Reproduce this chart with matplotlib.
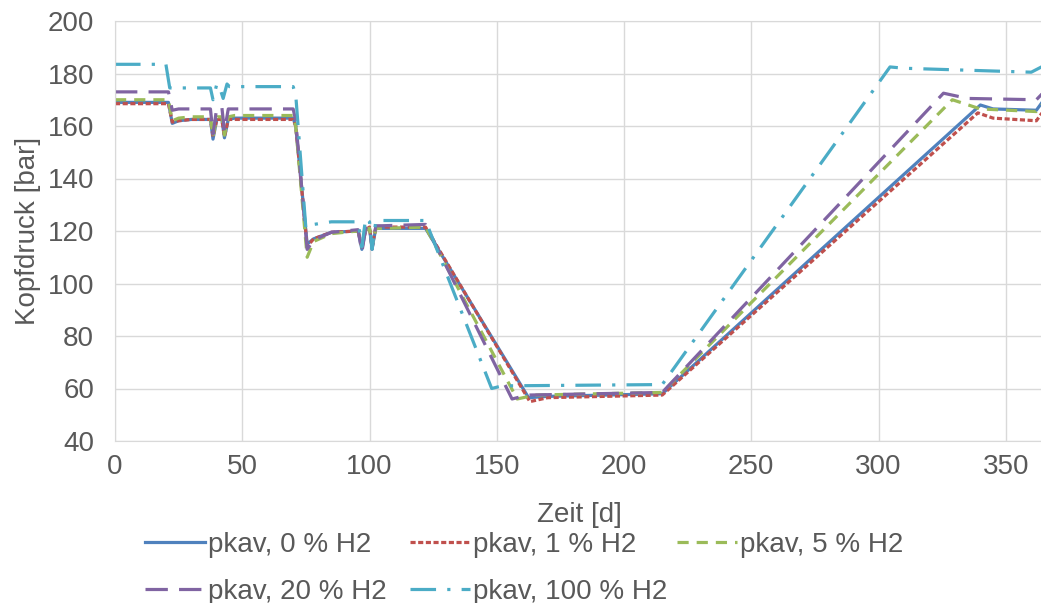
import numpy as np
import matplotlib
matplotlib.use("Agg")
import matplotlib.pyplot as plt

plt.rcParams["font.family"] = ["Liberation Sans", "DejaVu Sans"]

# day / pressure points
x_0 = [0, 21, 22.5, 25, 30, 37.5, 38.5, 40, 42, 43, 44.5, 47, 70, 71, 75.5, 78, 85, 95.5, 97, 98.5, 100, 101, 102.5, 105, 122, 162.5, 170, 215, 340, 345, 362, 365]
y_0 = [169, 169, 161, 162, 162.5, 162.5, 155, 162.5, 162.5, 155.5, 162.5, 163, 163, 160, 115, 117, 119.5, 120, 113, 120.5, 121, 113.5, 121, 121, 121, 56.5, 57, 58, 168, 166.5, 166, 170]

x_1 = [0, 21, 22.5, 25, 30, 37.5, 38.5, 40, 42, 43, 44.5, 47, 70, 71, 75.5, 78, 85, 95.5, 97, 98.5, 100, 101, 102.5, 105, 122, 163, 170, 215, 339, 345, 362, 365]
y_1 = [168.5, 168.5, 161.5, 162, 162.5, 162.5, 156, 162.5, 162.5, 156, 162.5, 162.5, 162.5, 160, 114, 117, 119.5, 120, 114, 120.5, 121.5, 114, 121.5, 121.5, 121.5, 55, 56.5, 57.5, 165, 163, 162, 166]

x_5 = [0, 21, 22.5, 25, 30, 37.5, 38.5, 40, 42, 43, 44.5, 47, 70, 71, 75.5, 78, 85, 95.5, 97, 98.5, 100, 101, 102.5, 105, 122, 158, 165, 215, 329, 340, 362, 365]
y_5 = [170, 170, 162, 163, 163.5, 163.5, 156, 163.5, 163.5, 156.5, 163.5, 164, 164, 160, 110, 116, 119, 120, 114, 120.5, 121, 114, 121, 121, 121.5, 56, 57.5, 58.5, 170, 166.5, 165.5, 169]

x_20 = [0, 21, 22.5, 25, 30, 37.5, 38.5, 40, 42, 43, 44.5, 47, 70, 71, 75.5, 78, 85, 95.5, 97, 98.5, 100, 101, 102.5, 105, 122, 156, 162, 215, 325.5, 335, 362, 365]
y_20 = [173, 173, 166, 166.5, 166.5, 166.5, 157, 167, 167, 158, 166.5, 166.5, 166.5, 162, 113, 116.5, 119.5, 120.5, 112, 121, 122, 113, 122, 122, 122.5, 56, 57.5, 58.5, 172.5, 170.5, 170, 173]

x_100 = [0, 20, 21.5, 30, 37.5, 38.5, 40, 41, 42.5, 44, 45, 47, 70, 71, 75, 78, 85, 95.5, 97, 98.5, 100, 101, 102.5, 105, 122, 148, 152, 215, 304.5, 310, 360, 365]
y_100 = [183.5, 183.5, 174.5, 174.5, 174.5, 170, 176, 175, 170.5, 176, 175, 175, 175, 172, 121, 122.5, 123.5, 123.5, 114, 125, 123.5, 113, 124, 124, 124, 60, 61, 61.5, 182.5, 182, 180.5, 183]

series = [
    (x_0, y_0, "pkav, 0 % H2", "#4F81BD", "-"),
    (x_1, y_1, "pkav, 1 % H2", "#C0504D", (0, (1.6, 0.8))),
    (x_5, y_5, "pkav, 5 % H2", "#9BBB59", (0, (3.5, 2.5))),
    (x_20, y_20, "pkav, 20 % H2", "#8064A2", (0, (7, 3.5))),
    (x_100, y_100, "pkav, 100 % H2", "#4BACC6", (0, (8, 3.5, 1, 3.5))),
]

fs = 20
fig = plt.figure(figsize=(10.41, 6.03), dpi=100)
ax = fig.add_axes([115 / 1041, 1 - 441 / 603, 929 / 1041, 420 / 603])

handles = []
for xs, ys, lab, col, ls in series:
    h, = ax.plot(xs, ys, color=col, linestyle=ls, linewidth=2.3, label=lab)
    handles.append(h)

ax.set_xlim(0, 365)
ax.set_ylim(40, 200)
ax.set_xticks(np.arange(0, 351, 50))
ax.set_yticks(np.arange(40, 201, 20))
ax.grid(True, color="#d9d9d9", linewidth=1)
ax.set_axisbelow(True)
for s in ax.spines.values():
    s.set_color("#d9d9d9")
ax.tick_params(length=0, labelsize=fs, colors="#595959")
ax.tick_params(axis="x", pad=9)
ax.tick_params(axis="y", pad=15)
ax.set_xlabel("Zeit [d]", fontsize=fs, color="#595959", labelpad=16)
ax.set_ylabel("Kopfdruck [bar]", fontsize=fs, color="#595959", labelpad=5)

# legend columns have fixed positions in the reference, one legend per column
columns = [([0, 3], 145), ([1, 4], 410), ([2], 677)]
for idx, xpx in columns:
    fig.legend([handles[i] for i in idx], [series[i][2] for i in idx],
               loc="upper left", bbox_to_anchor=(xpx / 1041, 1 - 532 / 603),
               frameon=False, fontsize=fs, labelcolor="#595959", handlelength=2.15,
               handletextpad=0.12, labelspacing=0.75, borderpad=0, borderaxespad=0)

fig.savefig("out.png", dpi=100)
